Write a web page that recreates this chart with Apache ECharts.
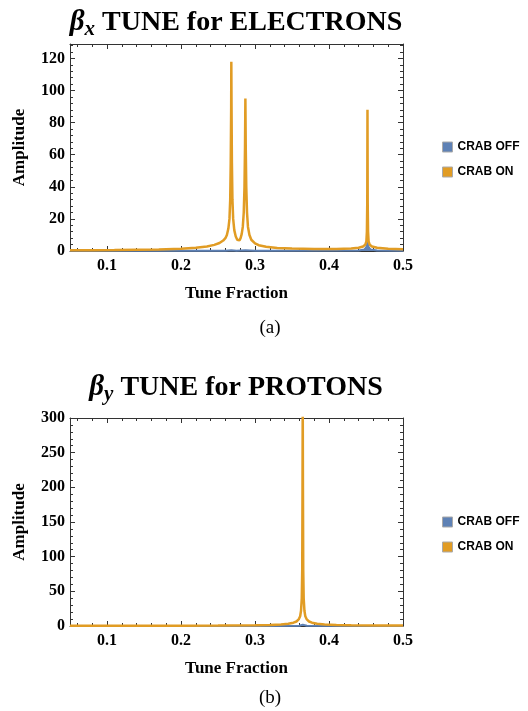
<!DOCTYPE html>
<html>
<head>
<meta charset="utf-8">
<script src="https://cdn.jsdelivr.net/npm/echarts@6/dist/echarts.min.js"></script>
<style>html,body{margin:0;padding:0;background:#fff}#c{width:528px;height:711px}</style>
</head>
<body>
<div id="c"></div>
<script>
// ---------- data ----------
const seriesNames = ['CRAB OFF', 'CRAB ON'];
const xTickLabels = [0.1, 0.2, 0.3, 0.4, 0.5];

// Panel (a): beta_x tune for electrons
const elecOnX  = [0.05,0.08,0.11,0.14,0.17,0.2,0.22,0.235,0.245,0.252,0.257,0.26,0.262,0.264,0.2655,0.2665,0.2672,0.2678,0.268,0.2683,0.2688,0.2695,0.2705,0.272,0.274,0.276,0.2775,0.279,0.2805,0.282,0.2835,0.2848,0.2858,0.2865,0.287,0.2875,0.2882,0.2892,0.2905,0.2925,0.295,0.3,0.305,0.315,0.33,0.35,0.38,0.41,0.43,0.44,0.446,0.449,0.4505,0.4512,0.4517,0.452,0.4523,0.4528,0.4535,0.455,0.458,0.465,0.48,0.5];
const elecOnY  = [0.4,0.5,0.6,0.8,1.0,1.4,2.0,2.8,3.8,5.0,6.5,8.0,10,14,20,32,55,90,118,90,55,32,20,13,9,7,6.3,6.6,8,10.5,15,24,40,65,95,65,40,24,15,10,7,4.8,3.6,2.6,1.9,1.5,1.2,1.2,1.5,2.0,2.8,4,6,12,30,88,30,12,6,4,2.8,2.0,1.4,1.1];
const elecOffX = [0.05,0.2,0.26,0.268,0.275,0.287,0.3,0.44,0.448,0.4505,0.452,0.4535,0.456,0.465,0.5];
const elecOffY = [0.1,0.1,0.2,0.5,0.2,0.4,0.2,0.3,1.0,2.5,6,2.5,1.0,0.3,0.1];

// Panel (b): beta_y tune for protons
const protOnX  = [0.05,0.1,0.15,0.2,0.25,0.3,0.32,0.335,0.345,0.352,0.356,0.359,0.361,0.3622,0.3632,0.3638,0.3642,0.3645,0.3648,0.3652,0.3658,0.3668,0.368,0.37,0.373,0.377,0.384,0.394,0.41,0.43,0.47,0.5];
const protOnY  = [0.3,0.35,0.4,0.5,0.7,1.1,1.5,2.2,3.2,4.8,6.5,9.5,14,22,40,80,200,330,200,80,40,22,14,9.5,6.5,4.8,3.2,2.2,1.5,1.1,0.7,0.6];
const protOffX = [0.05,0.3,0.36,0.3645,0.37,0.5];
const protOffY = [0.1,0.1,0.3,2,0.3,0.1];

// ---------- build ----------
const zip = (xs, ys) => xs.map((x, i) => [x, ys[i]]);
const xMinorTicks = [];
for (let k = 3; k <= 24; k++) { if (k % 5 !== 0) xMinorTicks.push(+(k * 0.02).toFixed(2)); }

const SERIF = 'Liberation Serif';
const SANS = 'Liberation Sans';
const FRAME = '#333';
const BLUE = '#5E81B5', ORANGE = '#E19C24';

const grids = [
  { left: 70, top: 44, width: 333, height: 207 },
  { left: 70, top: 418, width: 333, height: 208 }
];
const yMax = [129, 300];
const yInt = [20, 50];

const xAxes = [], yAxes = [];
grids.forEach((g, gi) => {
  const base = { type: 'value', gridIndex: gi, min: 0.05, max: 0.5, splitLine: { show: false } };
  xAxes.push(Object.assign({}, base, {
    position: 'bottom',
    axisLine: { show: true, onZero: false, lineStyle: { color: FRAME, width: 1 } },
    axisTick: { show: true, inside: true, length: 5, customValues: xTickLabels, lineStyle: { color: FRAME } },
    axisLabel: { show: true, customValues: xTickLabels, margin: 7, color: '#000', fontFamily: SERIF, fontWeight: 'bold', fontSize: 16, formatter: v => String(+v.toFixed(2)) },
    name: 'Tune Fraction', nameLocation: 'middle', nameGap: 34,
    nameTextStyle: { fontFamily: SERIF, fontWeight: 'bold', fontSize: 17, color: '#000' }
  }));
  xAxes.push(Object.assign({}, base, {
    position: 'bottom',
    axisLine: { show: false, onZero: false },
    axisTick: { show: true, inside: true, length: 3, customValues: xMinorTicks, lineStyle: { color: FRAME } },
    axisLabel: { show: false, customValues: xMinorTicks }
  }));
  xAxes.push(Object.assign({}, base, {
    position: 'top',
    axisLine: { show: true, onZero: false, lineStyle: { color: FRAME, width: 1 } },
    axisTick: { show: true, inside: true, length: 5, customValues: xTickLabels, lineStyle: { color: FRAME } },
    axisLabel: { show: false, customValues: xTickLabels }
  }));
  xAxes.push(Object.assign({}, base, {
    position: 'top',
    axisLine: { show: false, onZero: false },
    axisTick: { show: true, inside: true, length: 3, customValues: xMinorTicks, lineStyle: { color: FRAME } },
    axisLabel: { show: false, customValues: xMinorTicks }
  }));

  const ybase = {
    type: 'value', gridIndex: gi, min: 0, max: yMax[gi], interval: yInt[gi],
    splitLine: { show: false },
    axisLine: { show: true, onZero: false, lineStyle: { color: FRAME, width: 1 } },
    axisTick: { show: true, inside: true, length: 5, lineStyle: { color: FRAME } },
    minorTick: { show: true, splitNumber: 5, length: 3, lineStyle: { color: FRAME } }
  };
  yAxes.push(Object.assign({}, ybase, {
    position: 'left',
    axisLabel: { show: true, margin: 5, color: '#000', fontFamily: SERIF, fontWeight: 'bold', fontSize: 16, showMaxLabel: gi === 1 },
    name: 'Amplitude', nameLocation: 'middle', nameGap: 42, nameRotate: 90,
    nameTextStyle: { fontFamily: SERIF, fontWeight: 'bold', fontSize: 17, color: '#000' }
  }));
  yAxes.push(Object.assign({}, ybase, {
    position: 'right',
    axisLabel: { show: false }
  }));
});

const mkSeries = (name, data, gi, color, width, z, area) => ({
  name, type: 'line', data, xAxisIndex: gi * 4, yAxisIndex: gi * 2,
  showSymbol: false, symbol: 'none', smooth: false, clip: true, z,
  lineStyle: { color, width }, itemStyle: { color },
  areaStyle: area ? { color, opacity: 1 } : undefined,
  animation: false
});

const series = [
  mkSeries('CRAB OFF', zip(elecOffX, elecOffY), 0, BLUE, 2, 2, true),
  mkSeries('CRAB ON', zip(elecOnX, elecOnY), 0, ORANGE, 2.5, 3, false),
  mkSeries('CRAB OFF', zip(protOffX, protOffY), 1, BLUE, 2, 2, true),
  mkSeries('CRAB ON', zip(protOnX, protOnY), 1, ORANGE, 2.5, 3, false)
];

const legendBase = {
  data: seriesNames, orient: 'vertical', left: 437, itemWidth: 10, itemHeight: 10, itemGap: 13,
  icon: 'rect', selectedMode: false,
  itemStyle: { borderColor: '#aaa', borderWidth: 1 },
  textStyle: { fontFamily: SANS, fontWeight: 'bold', fontSize: 12, color: '#000' }
};

const titleRich = {
  b: { fontFamily: SERIF, fontSize: 29, fontWeight: 'bold', fontStyle: 'italic', fill: '#000', verticalAlign: 'bottom', padding: [0, 0, 3, 0] },
  s: { fontFamily: SERIF, fontSize: 21, fontWeight: 'bold', fontStyle: 'italic', fill: '#000', verticalAlign: 'bottom' },
  t: { fontFamily: SERIF, fontSize: 28, fontWeight: 'bold', fill: '#000', verticalAlign: 'bottom', padding: [0, 0, 3, 0] }
};
const mkText = (x, y, text, rich, font) => ({
  type: 'text', x, y, silent: true,
  style: Object.assign({ text, align: 'center', verticalAlign: 'middle', fill: '#000' }, rich ? { rich } : {}, font ? { font } : {})
});

const option = {
  backgroundColor: '#fff',
  animation: false,
  grid: grids,
  xAxis: xAxes,
  yAxis: yAxes,
  series,
  legend: [
    Object.assign({}, legendBase, { top: 136 }),
    Object.assign({}, legendBase, { top: 511 })
  ],
  graphic: [
    mkText(236, 24, '{b|β}{s|x}{t| TUNE for ELECTRONS}', titleRich),
    mkText(236, 389, '{b|β}{s|y}{t| TUNE for PROTONS}', titleRich),
    mkText(270, 328, '(a)', null, 'normal 19px "Liberation Serif"'),
    mkText(270, 698, '(b)', null, 'normal 19px "Liberation Serif"')
  ]
};

const chart = echarts.init(document.getElementById('c'), null, { renderer: 'canvas' });
chart.setOption(option);
</script>
</body>
</html>
